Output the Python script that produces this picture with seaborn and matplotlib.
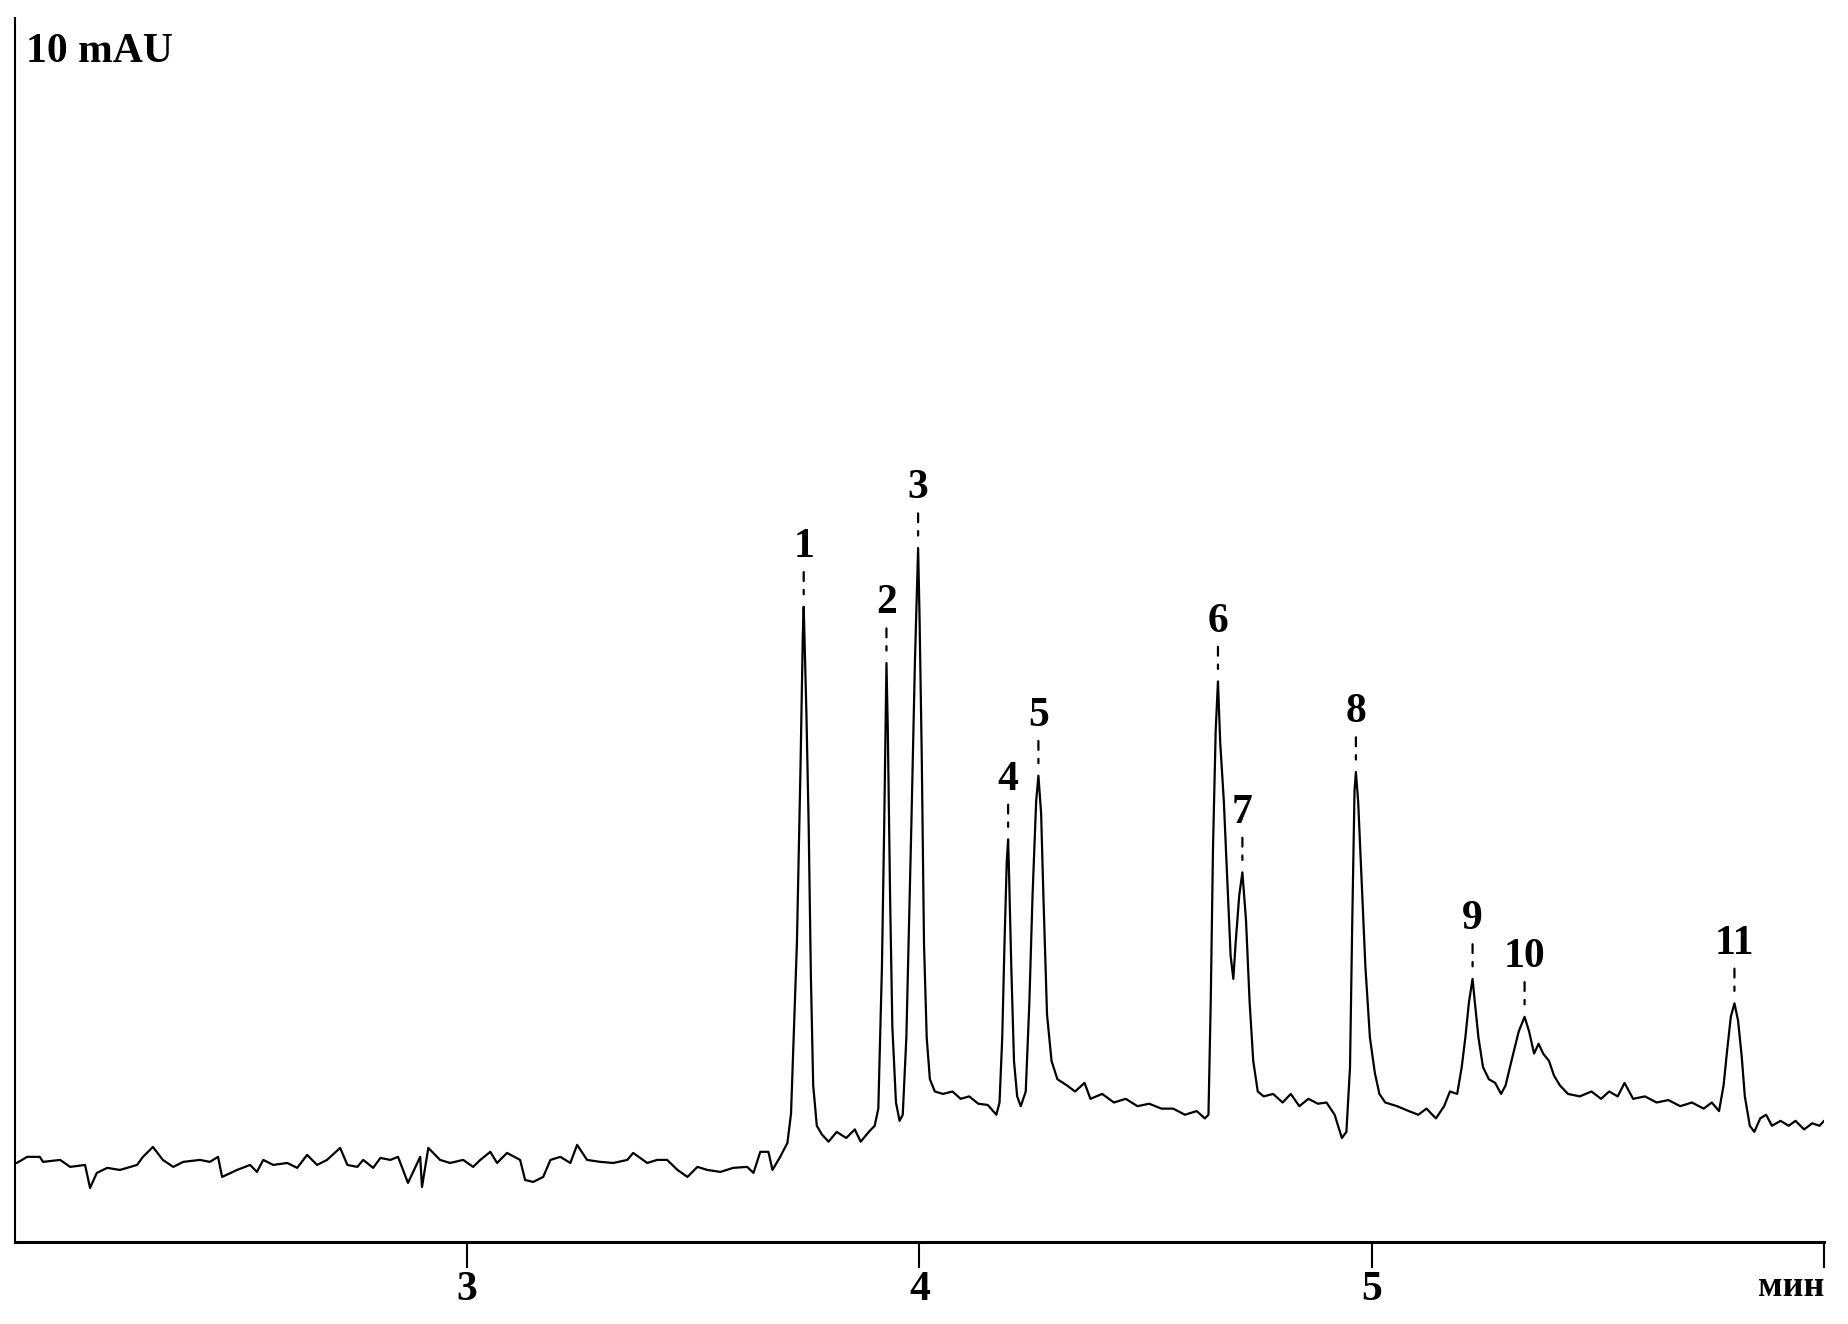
import pandas as pd
import matplotlib
matplotlib.use("Agg")
import matplotlib.pyplot as plt
import seaborn as sns

time_min = [
    2.004, 2.027, 2.055, 2.062, 2.100, 2.122, 2.155, 2.166, 2.181, 2.204,
    2.232, 2.270, 2.283, 2.305, 2.327, 2.350, 2.372, 2.409, 2.431, 2.449,
    2.458, 2.491, 2.520, 2.535, 2.549, 2.571, 2.602, 2.624, 2.646, 2.668,
    2.690, 2.719, 2.735, 2.757, 2.770, 2.792, 2.808, 2.830, 2.847, 2.869,
    2.896, 2.900, 2.914, 2.940, 2.962, 2.991, 3.013, 3.029, 3.051, 3.066,
    3.088, 3.117, 3.128, 3.146, 3.168, 3.184, 3.206, 3.228, 3.243, 3.265,
    3.294, 3.323, 3.354, 3.367, 3.398, 3.420, 3.442, 3.465, 3.487, 3.509,
    3.531, 3.560, 3.588, 3.619, 3.633, 3.648, 3.666, 3.675, 3.692, 3.708,
    # пик 1
    3.716, 3.729, 3.737, 3.742, 3.744, 3.747, 3.750, 3.755, 3.760, 3.765,
    3.773, 3.784, 3.799, 3.817, 3.838, 3.857, 3.870, 3.888, 3.901,
    # пики 2, 3
    3.909, 3.917, 3.922, 3.927, 3.930, 3.935, 3.940, 3.948, 3.956,
    3.963, 3.971, 3.982, 3.990, 3.997, 4.000, 4.005, 4.010, 4.016, 4.023,
    4.034, 4.052, 4.073, 4.091, 4.110, 4.130, 4.151, 4.170,
    # пики 4, 5
    4.177, 4.183, 4.188, 4.193, 4.196, 4.198, 4.203, 4.209, 4.216, 4.224,
    4.235, 4.243, 4.250, 4.258, 4.263, 4.269, 4.274, 4.282, 4.292, 4.305,
    4.326, 4.344, 4.365, 4.378, 4.404, 4.430, 4.456, 4.482, 4.508, 4.535,
    4.561, 4.587, 4.613, 4.631,
    # пики 6, 7
    4.639, 4.644, 4.649, 4.655, 4.660, 4.665, 4.673, 4.681, 4.688, 4.694,
    4.699, 4.707, 4.714, 4.722, 4.730, 4.738, 4.748, 4.761, 4.782, 4.803,
    4.821, 4.840, 4.860, 4.881, 4.900, 4.918, 4.934, 4.944,
    # пик 8
    4.952, 4.957, 4.962, 4.965, 4.970, 4.978, 4.986, 4.996, 5.007, 5.017,
    5.030, 5.056, 5.082, 5.103, 5.121, 5.142, 5.160, 5.173, 5.189, 5.199,
    # пики 9, 10
    5.207, 5.215, 5.223, 5.228, 5.236, 5.246, 5.259, 5.273, 5.286,
    5.296, 5.309, 5.325, 5.338, 5.348, 5.359, 5.369, 5.379, 5.392, 5.403,
    5.416, 5.434, 5.460, 5.486, 5.507, 5.525, 5.544, 5.559, 5.578, 5.604,
    5.630, 5.656, 5.682, 5.708, 5.734, 5.752, 5.768,
    # пик 11
    5.778, 5.786, 5.794, 5.802, 5.810, 5.818, 5.825, 5.836, 5.846, 5.859,
    5.872, 5.885, 5.904, 5.922, 5.937, 5.956, 5.974, 5.990, 6.000,
]
signal_mau = [
    0.646, 0.696, 0.696, 0.655, 0.671, 0.614, 0.630, 0.442, 0.565, 0.606,
    0.589, 0.630, 0.696, 0.777, 0.671, 0.614, 0.655, 0.671, 0.655, 0.696,
    0.532, 0.589, 0.630, 0.573, 0.671, 0.630, 0.646, 0.606, 0.712, 0.630,
    0.671, 0.769, 0.630, 0.614, 0.671, 0.606, 0.687, 0.671, 0.696, 0.483,
    0.696, 0.450, 0.769, 0.671, 0.646, 0.671, 0.614, 0.671, 0.737, 0.646,
    0.728, 0.671, 0.507, 0.491, 0.532, 0.671, 0.696, 0.646, 0.794, 0.671,
    0.655, 0.646, 0.671, 0.728, 0.646, 0.671, 0.671, 0.589, 0.532, 0.614,
    0.589, 0.573, 0.606, 0.614, 0.565, 0.737, 0.737, 0.589, 0.696, 0.810,
    1.05, 2.44, 3.89, 4.95, 5.19, 4.75, 4.32, 3.40, 2.15, 1.28,
    0.95, 0.88, 0.82, 0.90, 0.85, 0.92, 0.82, 0.90, 0.95,
    1.09, 2.25, 3.40, 4.73, 4.18, 2.83, 1.76, 1.14, 0.99,
    1.04, 1.67, 3.40, 4.75, 5.67, 5.14, 3.98, 2.44, 1.67, 1.33,
    1.23, 1.21, 1.23, 1.17, 1.19, 1.13, 1.12, 1.04,
    1.14, 1.67, 2.44, 3.11, 3.29, 3.02, 2.25, 1.48, 1.19, 1.11,
    1.23, 1.96, 2.83, 3.60, 3.81, 3.50, 2.83, 1.86, 1.48, 1.33,
    1.28, 1.23, 1.30, 1.17, 1.21, 1.14, 1.17, 1.11, 1.13, 1.09,
    1.09, 1.04, 1.07, 1.01,
    1.04, 1.96, 3.21, 4.18, 4.58, 4.08, 3.60, 2.92, 2.34, 2.15,
    2.44, 2.83, 3.02, 2.63, 1.96, 1.48, 1.23, 1.19, 1.21, 1.14,
    1.21, 1.11, 1.17, 1.13, 1.14, 1.04, 0.85, 0.90,
    1.43, 2.63, 3.69, 3.84, 3.60, 2.92, 2.25, 1.67, 1.38, 1.21,
    1.14, 1.11, 1.07, 1.04, 1.09, 1.01, 1.11, 1.23, 1.21, 1.43,
    1.67, 1.96, 2.15, 1.96, 1.67, 1.43, 1.33, 1.30, 1.21,
    1.28, 1.48, 1.72, 1.84, 1.72, 1.54, 1.62, 1.54, 1.48, 1.36,
    1.28, 1.21, 1.19, 1.23, 1.17, 1.23, 1.19, 1.30, 1.17, 1.19,
    1.14, 1.16, 1.11, 1.14, 1.09, 1.14, 1.07,
    1.28, 1.57, 1.84, 1.95, 1.81, 1.52, 1.19, 0.95, 0.90, 1.01,
    1.04, 0.95, 0.99, 0.95, 0.99, 0.92, 0.97, 0.95, 0.99,
]

# номера пиков и их вершины
peak_ids = ['1', '2', '3', '4', '5', '6', '7', '8', '9', '10', '11']
peak_time = [3.744, 3.927, 3.997, 4.196, 4.263, 4.660, 4.714, 4.965, 5.223, 5.338, 5.802]
peak_height = [5.19, 4.73, 5.67, 3.29, 3.81, 4.58, 3.02, 3.84, 2.15, 1.84, 1.95]

tick_pos = [3, 4, 5, 6]
tick_text = ['3', '4', '5', 'мин']

sns.set_theme(style='white')
plt.rcParams['font.family'] = ['Liberation Serif', 'DejaVu Serif']

fig = plt.figure(figsize=(18.48, 13.24), dpi=100)
ax = fig.add_axes([0.0081, 0.0619, 0.9789, 0.9245])

df = pd.DataFrame({'t': time_min, 's': signal_mau})
sns.lineplot(data=df, x='t', y='s', ax=ax, color='black', linewidth=1.6,
             estimator=None, sort=False)

# подписи пиков с пунктирной меткой
for pid, t, h in zip(peak_ids, peak_time, peak_height):
    ax.annotate(pid, xy=(t, h), xytext=(0, 43), textcoords='offset points',
                ha='center', va='center', fontsize=30, fontweight='bold',
                color='black',
                arrowprops=dict(arrowstyle='-', color='black', lw=1.6,
                                linestyle=(0, (4, 4)), shrinkA=2, shrinkB=9))

ax.text(0.006, 0.972, '10 mAU', transform=ax.transAxes, fontsize=30,
        fontweight='bold', ha='left', va='center', color='black')

ax.set_xlim(2, 6)
ax.set_ylim(0, 10)
ax.set_xticks(tick_pos)
ax.set_xticklabels(tick_text, fontsize=30, fontweight='bold')
ax.get_xticklabels()[-1].set_ha('right')
ax.get_xticklabels()[-1].set_fontsize(26)
ax.set_yticks([])
ax.set_xlabel('')
ax.set_ylabel('')
ax.tick_params(axis='x', direction='out', length=19, width=1.5, pad=2,
               colors='black', bottom=True)

for side in ['top', 'right']:
    ax.spines[side].set_visible(False)
ax.spines['bottom'].set_linewidth(2.2)
ax.spines['left'].set_linewidth(1.5)
ax.spines['bottom'].set_color('black')
ax.spines['left'].set_color('black')
ax.set_facecolor('white')

fig.savefig('out.png', dpi=100, facecolor='white')
